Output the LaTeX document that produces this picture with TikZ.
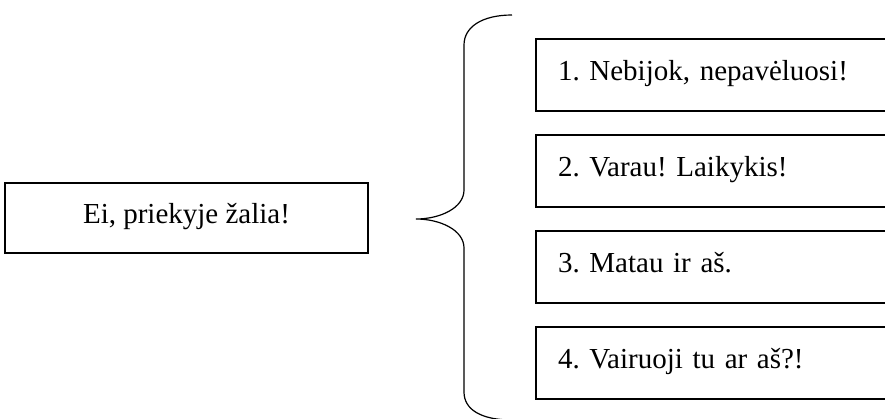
\documentclass[tikz,border=0pt]{standalone}
\usepackage{fontspec}
\setmainfont{Liberation Serif}
\usetikzlibrary{positioning}
\frenchspacing

\begin{document}
\begin{tikzpicture}[x=1bp,y=-1bp,every node/.style={block},
        block/.style={draw,rectangle,line width=1.2bp,outer sep=0pt,inner sep=0pt,
          minimum height=72bp,text height=20bp,text depth=10bp,
          font=\fontsize{29bp}{35bp}\selectfont},
        item/.style={minimum width=400bp,text width=356bp,align=left,node distance=24bp}]

        \useasboundingbox (0,0) rectangle (885,418);

        \node (start) [minimum width=363bp,minimum height=70bp,anchor=north east] at (368,183) {Ei, priekyje žalia!};

        \node (a) [item,anchor=north west] at (536,39) {1. Nebijok, nepavėluosi!};
        \node (b) [item,below = of a] {2. Varau! Laikykis!};
        \node (c) [item,below = of b] {3. Matau ir aš.};
        \node (d) [item,below = of c] {4. Vairuoji tu ar aš?!};

        \draw[line width=1.2bp] (512,15) .. controls (482,15) and (464,27) .. (464,45) -- (464,190)
            .. controls (464,208) and (440,219) .. (416,219)
            .. controls (440,219) and (464,230) .. (464,248) -- (464,392)
            .. controls (464,410) and (482,420) .. (512,420);
\end{tikzpicture}
\end{document}
